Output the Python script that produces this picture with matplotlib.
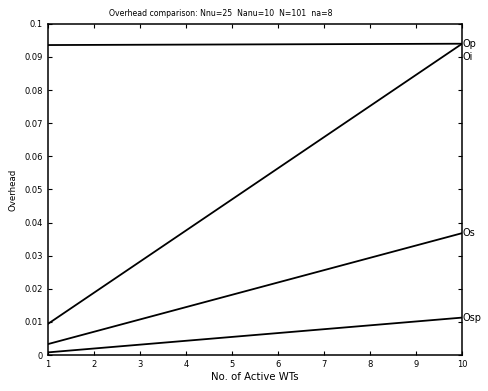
import matplotlib
matplotlib.use("Agg")
import matplotlib.pyplot as plt

wts = [1, 10]
op = [0.0936, 0.0940]
oi = [0.0094, 0.0940]
os_ = [0.0033, 0.0368]
osp = [0.0008, 0.0113]
labels = ["Op", "Oi", "Os", "Osp"]
label_offsets = [0.0, -0.004, 0.0, 0.0]

yticks = [0, 0.01, 0.02, 0.03, 0.04, 0.05, 0.06, 0.07, 0.08, 0.09, 0.1]
yticklabels = ["0", "0.01", "0.02", "0.03", "0.04", "0.05", "0.06", "0.07", "0.08", "0.09", "0.1"]
xticks = list(range(1, 11))

plt.rcParams['font.family'] = ['DejaVu Sans']
fig = plt.figure(figsize=(4.89, 3.91), dpi=100)
ax = fig.add_axes([0.098, 0.092, 0.847, 0.847])

series = [op, oi, os_, osp]
for s, lab, off in zip(series, labels, label_offsets):
    ax.plot(wts, s, color='black', lw=1.3)
    ax.text(wts[-1] + 0.01, s[-1] + off, lab, fontsize=7, va='center', ha='left')

ax.set_xlim(1, 10)
ax.set_ylim(0, 0.1)
ax.set_xticks(xticks)
ax.set_yticks(yticks)
ax.set_yticklabels(yticklabels)
ax.tick_params(direction='in', top=True, right=True, labelsize=6, length=3, width=0.8)
for sp in ax.spines.values():
    sp.set_linewidth(1.1)
fig.text(221 / 489, 1 - 13 / 391, "Overhead comparison: Nnu=25  Nanu=10  N=101  na=8",
         fontsize=5.6, ha='center', va='center')
ax.set_xlabel("No. of Active WTs", fontsize=7.3, labelpad=2)
ax.set_ylabel("Overhead", fontsize=6.2, labelpad=5)

fig.savefig("out.png", dpi=100)
